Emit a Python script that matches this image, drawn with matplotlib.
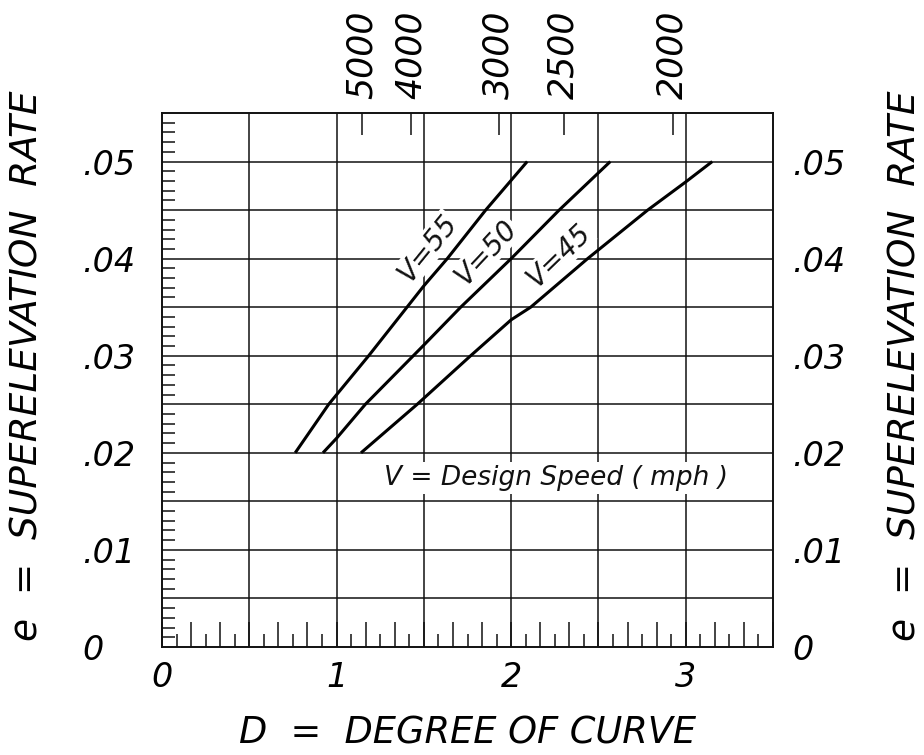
import numpy as np
import matplotlib
matplotlib.use("Agg")
import matplotlib.pyplot as plt
from matplotlib.ticker import MultipleLocator, FuncFormatter

plt.rcParams['font.family'] = ['DejaVu Sans']
plt.rcParams['font.style'] = 'italic'

# ---- data ----
radius_labels = ["5000", "4000", "3000", "2500", "2000"]
radius_D = [1.144, 1.424, 1.930, 2.301, 2.925]

v55_D = [0.763, 0.955, 1.184, 1.50, 1.634, 1.854, 2.092]
v55_e = [0.020, 0.025, 0.030, 0.0372, 0.040, 0.045, 0.050]
v50_D = [0.922, 1.000, 1.165, 1.50, 1.711, 2.000, 2.275, 2.568]
v50_e = [0.020, 0.0215, 0.025, 0.0311, 0.035, 0.040, 0.045, 0.050]
v45_D = [1.140, 1.462, 1.768, 2.000, 2.112, 2.438, 2.782, 3.000, 3.152]
v45_e = [0.020, 0.025, 0.030, 0.0337, 0.035, 0.040, 0.045, 0.0479, 0.050]

curve_labels = ["V=55", "V=50", "V=45"]
curve_label_D = [1.523, 1.860, 2.273]
curve_label_e = [0.0411, 0.0407, 0.0403]
curve_label_rot = [51, 47, 44]

x_tick_vals = [0, 1, 2, 3]
x_tick_labels = ["0", "1", "2", "3"]
y_tick_vals = [0.0, 0.01, 0.02, 0.03, 0.04, 0.05]
y_tick_labels = ["0", ".01", ".02", ".03", ".04", ".05"]

note_text = "V = Design Speed ( mph )"
note_D, note_e = 2.256, 0.0174

y_title = "e  =  SUPERELEVATION  RATE"
x_title = "D  =  DEGREE OF CURVE"

# ---- figure ----
W, H = 924, 755
fig = plt.figure(figsize=(W / 100, H / 100), dpi=100)
L, R, T, B = 162, 773, 113, 647
ax = fig.add_axes([L / W, 1 - B / H, (R - L) / W, (B - T) / H])
ax.set_xlim(0, 3.5)
ax.set_ylim(0, 0.055)

ink = '#111111'
for s in ax.spines.values():
    s.set_linewidth(1.4)
    s.set_color(ink)

# grid
for gx in np.arange(0.5, 3.5, 0.5):
    ax.axvline(gx, color=ink, lw=1.1, zorder=1)
for gy in np.arange(0.005, 0.055, 0.005):
    ax.axhline(gy, color=ink, lw=1.1, zorder=1)

# curves
for xs, ys in [(v55_D, v55_e), (v50_D, v50_e), (v45_D, v45_e)]:
    ax.plot(xs, ys, color='black', lw=2.2, solid_capstyle='butt', zorder=4)

for lab, d, e, r in zip(curve_labels, curve_label_D, curve_label_e, curve_label_rot):
    ax.text(d, e, lab, rotation=r, rotation_mode='anchor', ha='center', va='center',
            fontsize=20, color=ink, zorder=3,
            bbox=dict(facecolor='white', edgecolor='none', pad=0.5))

ax.text(note_D, note_e, note_text, ha='center', va='center', fontsize=19, color=ink,
        zorder=3, bbox=dict(facecolor='white', edgecolor='none', pad=2))

# x axis ticks: long at every 1/6, short at odd 1/12, labels at integers
def xfmt(v, p):
    for tv, tl in zip(x_tick_vals, x_tick_labels):
        if abs(v - tv) < 1e-6:
            return tl
    return ""
ax.xaxis.set_major_locator(MultipleLocator(1 / 6))
ax.xaxis.set_minor_locator(MultipleLocator(1 / 12))
ax.xaxis.set_major_formatter(FuncFormatter(xfmt))
ax.tick_params(axis='x', which='major', direction='in', length=17.8, width=1.1,
               color=ink, labelsize=24, pad=10, top=False, labelcolor='black')
ax.tick_params(axis='x', which='minor', direction='in', length=9.1, width=1.1,
               color=ink, top=False)

# y axis: left labels (left-aligned), minor ticks both sides
def yfmt(v, p):
    for tv, tl in zip(y_tick_vals, y_tick_labels):
        if abs(v - tv) < 1e-9:
            return tl
    return ""
ax.set_yticks(np.arange(0, 0.0551, 0.005))
ax.yaxis.set_minor_locator(MultipleLocator(0.001))
ax.yaxis.set_major_formatter(FuncFormatter(yfmt))
ax.tick_params(axis='y', which='major', direction='in', length=0, left=True, right=False,
               labelleft=True, labelright=False, labelsize=24, pad=57.6)
ax.tick_params(axis='y', which='minor', direction='in', length=9.1, width=1.1,
               color=ink, left=True, right=True)
for t in ax.yaxis.get_major_ticks():
    t.label1.set_horizontalalignment('left')

# right labels
axr = ax.twinx()
axr.set_ylim(ax.get_ylim())
axr.set_yticks(y_tick_vals, y_tick_labels)
axr.tick_params(axis='y', direction='in', length=0, labelsize=24, pad=13.7)
for s in axr.spines.values():
    s.set_visible(False)

# top radius scale
axt = ax.twiny()
axt.set_xlim(ax.get_xlim())
axt.set_xticks(radius_D)
axt.set_xticklabels(radius_labels, rotation=90, fontsize=25)
axt.tick_params(axis='x', direction='in', length=15.6, width=1.1, color=ink, pad=10)
for s in axt.spines.values():
    s.set_visible(False)

# axis titles
ax.set_xlabel(x_title, fontsize=26.5, labelpad=15)
fig.text(28 / W, 1 - 366 / H, y_title, rotation=90, fontsize=27,
         ha='center', va='center')
fig.text(905 / W, 1 - 366 / H, y_title, rotation=90, fontsize=27,
         ha='center', va='center')

fig.savefig("out.png", dpi=100, facecolor='white')
